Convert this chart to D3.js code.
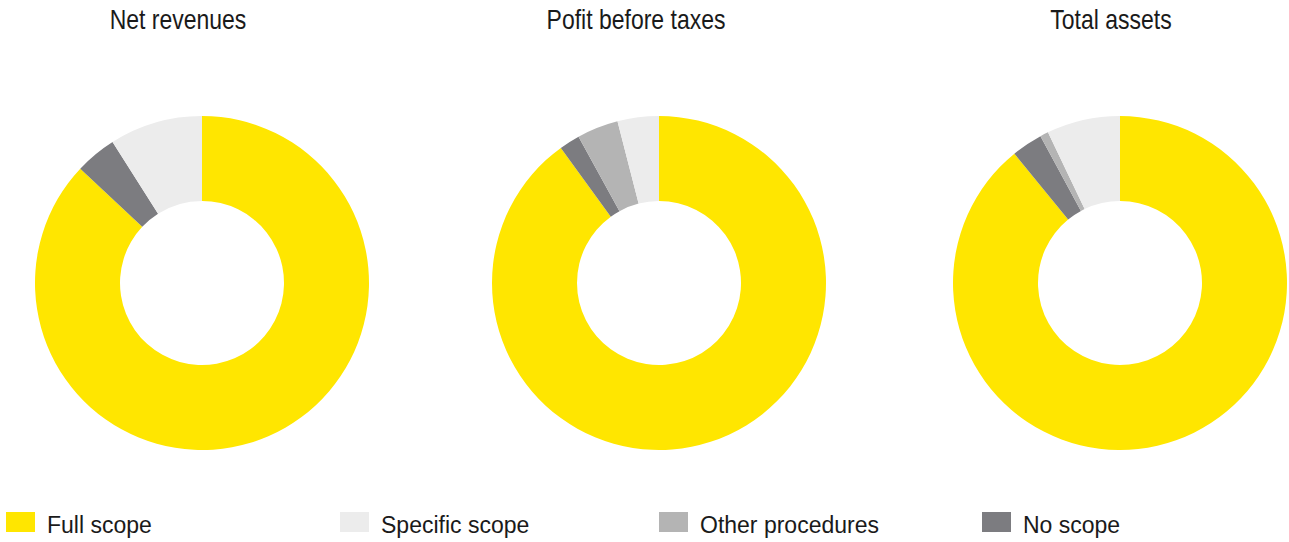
<!DOCTYPE html>
<html>
<head>
<meta charset="utf-8">
<script src="https://cdn.jsdelivr.net/npm/d3@7"></script>
<style>
  body { margin:0; background:#fff; }
  text { font-family: "Liberation Sans", Arial, sans-serif; fill:#1a1a1a; }
</style>
</head>
<body>
<div class="chart"></div>
<script>
// categories in legend order
var categories = ["Full scope", "Specific scope", "Other procedures", "No scope"];
var colors = ["#ffe600", "#ececec", "#b4b4b4", "#7c7c80"];

// chart titles and their shares (%), same order as categories
var titles = ["Net revenues", "Pofit before taxes", "Total assets"];
var netRevenues = [87, 9, 0, 4];
var profitBeforeTaxes = [90, 4, 4, 2];
var totalAssets = [89.1, 7.1, 0.8, 3];
var seriesValues = [netRevenues, profitBeforeTaxes, totalAssets];

// clockwise drawing order from 12 o'clock: full, no scope, other, specific
var drawOrder = [0, 3, 2, 1];

var W = 1289, H = 542;
var svg = d3.select(".chart").append("svg").attr("width", W).attr("height", H);

var centers = [202, 659, 1120];
var titleX = [178, 636, 1111];
var cy = 283;
var outerR = 167, innerR = 82;

var pie = d3.pie().sort(null).value(function(d){ return d.v; });
var arc = d3.arc().innerRadius(innerR).outerRadius(outerR);

seriesValues.forEach(function(vals, i){
    var data = drawOrder.map(function(k){ return {k:k, v:vals[k]}; });
    var g = svg.append("g").attr("transform", "translate(" + centers[i] + "," + cy + ")");
    g.selectAll("path")
        .data(pie(data))
        .enter()
        .append("path")
            .attr("d", arc)
            .attr("fill", function(d){ return colors[d.data.k]; });

    //titles are a condensed face: stretch vertically instead
    svg.append("text")
        .attr("transform", "translate(" + titleX[i] + ",29) scale(1,1.2)")
        .attr("text-anchor", "middle")
        .attr("font-size", 23)
        .text(titles[i]);
});

//legend along the bottom
var legendX = [6, 340, 659, 982];
var legend = svg.selectAll(".legend")
    .data(categories)
    .enter()
    .append("g")
    .attr("class", "legend")
    .attr("transform", function(d, i){ return "translate(" + legendX[i] + ",512)"; });

legend.append("rect")
    .attr("width", 29).attr("height", 20)
    .attr("fill", function(d, i){ return colors[i]; });

legend.append("text")
    .attr("x", 41)
    .attr("y", 21)
    .attr("font-size", 23)
    .text(function(d){ return d; });
</script>
</body>
</html>
